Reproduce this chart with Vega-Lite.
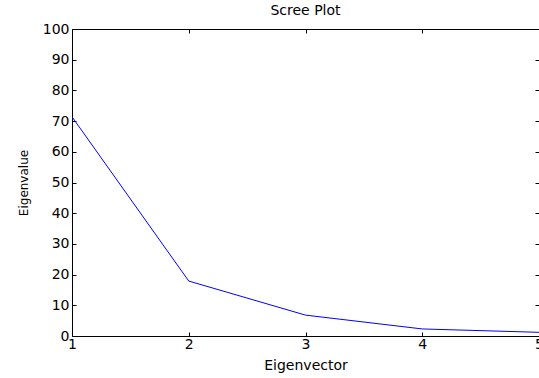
{
  "$schema": "https://vega.github.io/schema/vega-lite/v6.json",
  "width": 467,
  "height": 307,
  "autosize": {"type": "none"},
  "padding": {"left": 72, "top": 29, "right": 0, "bottom": 42},
  "background": "white",
  "title": {"text": "Scree Plot", "font": "DejaVu Sans", "fontSize": 14, "fontWeight": "normal", "color": "black", "offset": 4},
  "config": {
    "view": {"stroke": "black", "strokeWidth": 1},
    "axis": {"labelFont": "DejaVu Sans", "titleFont": "DejaVu Sans", "labelColor": "black", "titleColor": "black", "domain": false, "grid": false, "tickColor": "black", "labelFontSize": 14, "titleFontSize": 14, "titleFontWeight": "normal"}
  },
  "data": {"values": [
    {"Eigenvector": 1, "Eigenvalue": 71.4},
    {"Eigenvector": 2, "Eigenvalue": 17.9},
    {"Eigenvector": 3, "Eigenvalue": 6.8},
    {"Eigenvector": 4, "Eigenvalue": 2.3},
    {"Eigenvector": 5, "Eigenvalue": 1.2}
  ]},
  "resolve": {"axis": {"x": "independent", "y": "independent"}},
  "layer": [
    {
      "mark": {"type": "line", "color": "#0000ff", "strokeWidth": 1, "clip": true},
      "encoding": {
        "x": {"field": "Eigenvector", "type": "quantitative", "scale": {"domain": [1, 5], "nice": false}, "axis": {"orient": "bottom", "values": [1,2,3,4,5], "tickSize": -4, "labelPadding": 5, "titlePadding": 7, "labelFlush": false}},
        "y": {"field": "Eigenvalue", "type": "quantitative", "scale": {"domain": [0, 100], "nice": false}, "axis": {"orient": "left", "values": [0,10,20,30,40,50,60,70,80,90,100], "tickSize": -4, "labelPadding": 7, "titlePadding": 12, "titleFontSize": 12}}
      }
    },
    {
      "mark": {"type": "line", "opacity": 0},
      "encoding": {
        "x": {"field": "Eigenvector", "type": "quantitative", "axis": {"orient": "top", "values": [1,2,3,4,5], "tickSize": -4, "labels": false, "title": null}},
        "y": {"field": "Eigenvalue", "type": "quantitative", "axis": {"orient": "right", "values": [0,10,20,30,40,50,60,70,80,90,100], "tickSize": -4, "labels": false, "title": null}}
      }
    }
  ]
}
